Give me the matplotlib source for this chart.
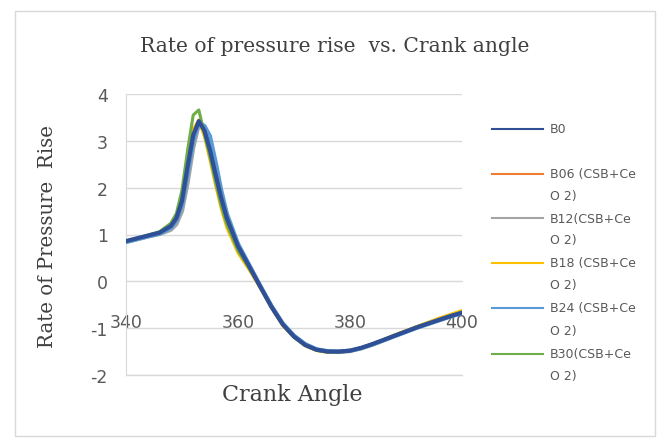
import matplotlib.pyplot as plt
from matplotlib.patches import Rectangle
from matplotlib.lines import Line2D

plt.rcParams['axes.unicode_minus'] = False

# crank angle (deg) and rate of pressure rise per blend
angle = [340, 342, 344, 346, 348, 349, 350, 351, 352, 353, 354, 355, 356, 357, 358,
         360, 362, 364, 366, 368, 370, 372, 374, 376, 378, 380, 382, 384, 386, 388,
         390, 392, 394, 396, 398, 400]

b0 = [0.86, 0.92, 0.98, 1.04, 1.18, 1.35, 1.72, 2.45, 3.12, 3.42, 3.22, 2.80, 2.28, 1.78, 1.35,
      0.75, 0.32, -0.12, -0.55, -0.92, -1.18, -1.36, -1.46, -1.50, -1.50, -1.48, -1.42, -1.34, -1.25, -1.16,
      -1.07, -0.98, -0.90, -0.82, -0.74, -0.67]
b06 = [0.85, 0.91, 0.97, 1.04, 1.20, 1.40, 1.80, 2.55, 3.20, 3.40, 3.12, 2.66, 2.12, 1.62, 1.22,
       0.66, 0.27, -0.14, -0.57, -0.94, -1.19, -1.37, -1.47, -1.51, -1.51, -1.48, -1.42, -1.34, -1.25, -1.15,
       -1.06, -0.97, -0.88, -0.80, -0.72, -0.64]
b12 = [0.84, 0.90, 0.96, 1.01, 1.10, 1.22, 1.50, 2.10, 2.85, 3.35, 3.30, 2.90, 2.35, 1.82, 1.38,
       0.78, 0.33, -0.11, -0.54, -0.91, -1.17, -1.35, -1.46, -1.50, -1.51, -1.49, -1.43, -1.35, -1.26, -1.16,
       -1.07, -0.98, -0.89, -0.81, -0.73, -0.66]
b18 = [0.85, 0.91, 0.98, 1.05, 1.22, 1.42, 1.85, 2.60, 3.25, 3.45, 3.08, 2.58, 2.04, 1.54, 1.14,
       0.60, 0.24, -0.15, -0.57, -0.95, -1.20, -1.38, -1.48, -1.52, -1.51, -1.48, -1.42, -1.33, -1.24, -1.14,
       -1.05, -0.96, -0.87, -0.78, -0.70, -0.62]
b24 = [0.84, 0.90, 0.96, 1.02, 1.14, 1.30, 1.62, 2.30, 3.00, 3.38, 3.32, 3.10, 2.55, 1.95, 1.45,
       0.80, 0.35, -0.10, -0.53, -0.90, -1.16, -1.34, -1.45, -1.49, -1.50, -1.48, -1.43, -1.35, -1.26, -1.17,
       -1.08, -0.99, -0.91, -0.83, -0.75, -0.68]
b30 = [0.86, 0.92, 0.99, 1.06, 1.24, 1.45, 1.95, 2.80, 3.55, 3.66, 3.15, 2.66, 2.12, 1.62, 1.22,
       0.66, 0.28, -0.13, -0.56, -0.93, -1.19, -1.37, -1.47, -1.51, -1.51, -1.48, -1.42, -1.34, -1.25, -1.15,
       -1.06, -0.97, -0.89, -0.81, -0.73, -0.66]

labels = ['B0', 'B06 (CSB+Ce', 'B12(CSB+Ce', 'B18 (CSB+Ce', 'B24 (CSB+Ce', 'B30(CSB+Ce']
series = [b0, b06, b12, b18, b24, b30]
colors = ['#2F4F96', '#ED7D31', '#A5A5A5', '#FFC000', '#5B9BD5', '#70AD47']
widths = [3.0, 2.0, 3.0, 2.0, 3.0, 2.2]
zorders = [8, 3, 4, 5, 6, 7]

W, H = 665, 439
fig = plt.figure(figsize=(W / 100, H / 100), dpi=100)

# outer chart border
fig.patches.append(Rectangle((15 / W, 1 - 437 / H), 640 / W, 425 / H, transform=fig.transFigure,
                             fill=False, edgecolor='#D9D9D9', linewidth=1.0))

ax = fig.add_axes([126 / W, 1 - 376 / H, 336 / W, 281 / H])

for i in [1, 2, 3, 5, 4, 0]:
    ax.plot(angle, series[i], color=colors[i], linewidth=widths[i], zorder=zorders[i],
            solid_capstyle='round', solid_joinstyle='round')

ax.set_xlim(340, 400)
ax.set_ylim(-2, 4)
ax.set_xticks([340, 360, 380, 400])
ax.set_yticks([-2, -1, 0, 1, 2, 3, 4])
ax.grid(axis='y', color='#D9D9D9', linewidth=1.0, zorder=0)
ax.axhline(-2, color='#D9D9D9', linewidth=1.0, zorder=0, clip_on=False)
ax.set_axisbelow(True)

for s in ['top', 'right']:
    ax.spines[s].set_visible(False)
ax.spines['left'].set_color('#D9D9D9')
ax.spines['bottom'].set_position(('data', 0))
ax.spines['bottom'].set_color('#D9D9D9')
ax.tick_params(axis='both', length=0, colors='#595959', labelsize=12.5)
ax.tick_params(axis='x', pad=23)
ax.tick_params(axis='y', pad=13)
for lab in ax.get_xticklabels() + ax.get_yticklabels():
    lab.set_family('DejaVu Sans')
    lab.set_zorder(10)

fig.text(335 / W, 1 - 47 / H, 'Rate of pressure rise  vs. Crank angle', ha='center', va='center',
         family='DejaVu Serif', fontsize=14.6, color='#404040')
fig.text(48 / W, 1 - 237 / H, 'Rate of Pressure  Rise', ha='center', va='center', rotation=90,
         family='DejaVu Serif', fontsize=14.2, color='#404040')
fig.text(292 / W, 1 - 395 / H, 'Crank Angle', ha='center', va='center',
         family='DejaVu Serif', fontsize=16, color='#404040')

# legend on the right, drawn by hand to match the wrapped labels
leg_y = [130, 175, 219, 264, 309, 355]
for i in range(6):
    fy = 1 - leg_y[i] / H
    fig.lines.append(Line2D([492 / W, 543 / W], [fy, fy], transform=fig.transFigure,
                            color=colors[i], linewidth=1.5))
    fig.text(550 / W, fy, labels[i], ha='left', va='center', family='DejaVu Sans',
             fontsize=9, color='#595959')
    if i > 0:
        fig.text(550 / W, 1 - (leg_y[i] + 22) / H, 'O 2)', ha='left', va='center',
                 family='DejaVu Sans', fontsize=9, color='#595959')

fig.savefig('out.png', dpi=100)
